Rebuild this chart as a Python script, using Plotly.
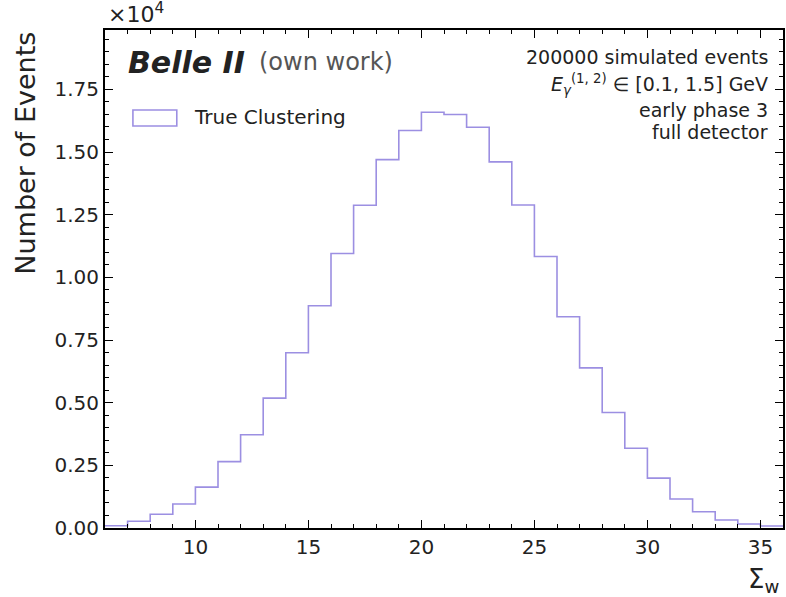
import plotly.graph_objects as go

# Histogram of cluster weight sum, bins of width 1 from 6 to 36
bin_edges = list(range(6, 37))
counts = [90, 270, 550, 960, 1630, 2650, 3720, 5180, 6990, 8870,
          10950, 12880, 14700, 15860, 16590, 16500, 15990, 14610, 12890, 10830,
          8430, 6390, 4610, 3180, 1990, 1160, 650, 320, 160, 80]

y_tick_vals = [0, 2500, 5000, 7500, 10000, 12500, 15000, 17500]
y_tick_text = ["0.00", "0.25", "0.50", "0.75", "1.00", "1.25", "1.50", "1.75"]

line_color = "#9c8fe2"
font_family = "DejaVu Sans"

fig = go.Figure()

# Step outline: each count held across its bin
fig.add_trace(go.Scatter(
    x=bin_edges,
    y=counts + [counts[-1]],
    mode="lines",
    line=dict(shape="hv", color=line_color, width=1.6),
    showlegend=False,
    hoverinfo="skip",
))

axis_common = dict(
    showline=True, linecolor="black", linewidth=2, mirror="ticks",
    ticks="inside", tickcolor="black", tickwidth=1.2, ticklen=8,
    showgrid=False, zeroline=False,
    tickfont=dict(family=font_family, size=20, color="#222"),
)

fig.update_layout(
    width=786, height=597,
    margin=dict(l=105, r=1, t=30, b=69),
    paper_bgcolor="white", plot_bgcolor="white",
    font=dict(family=font_family, color="#222"),
    xaxis=dict(
        range=[6, 36], dtick=5, tick0=0,
        minor=dict(ticks="inside", dtick=1, ticklen=4, tickcolor="black", tickwidth=1),
        **axis_common,
    ),
    yaxis=dict(
        range=[0, 19870], tickvals=y_tick_vals, ticktext=y_tick_text,
        minor=dict(ticks="inside", dtick=500, tick0=0, ticklen=4, tickcolor="black", tickwidth=1),
        **axis_common,
    ),
    showlegend=False,
)

plot_left, plot_w = 105, 786 - 105 - 1
plot_top, plot_h = 30, 597 - 30 - 69


def px_x(xp):
    return (xp - plot_left) / plot_w


def px_y(yp):
    return 1 - (yp - plot_top) / plot_h


annotations = [
    # axis scale factor
    dict(text="×10<sup>4</sup>", x=px_x(106), y=1.0, xanchor="left", yanchor="bottom",
         yshift=1, font=dict(size=22, color="#222")),
    # axis titles
    dict(text="Number of Events", x=px_x(25), y=1.0, xanchor="center", yanchor="top",
         textangle=-90, font=dict(size=27, color="#222")),
    dict(text="Σ<sub>w</sub>", x=px_x(783), y=px_y(562), xanchor="right", yanchor="top",
         font=dict(size=26, color="#222")),
    # experiment label
    dict(text="<b><i>Belle II</i></b>", x=px_x(126), y=px_y(62), xanchor="left",
         yanchor="middle", font=dict(size=30, color="#222")),
    dict(text="(own work)", x=px_x(257), y=px_y(62), xanchor="left",
         yanchor="middle", font=dict(size=24, color="#555")),
    # legend label
    dict(text="True Clustering", x=px_x(192), y=px_y(117), xanchor="left",
         yanchor="middle", font=dict(size=20, color="#222")),
]

info_lines = [
    ("200000 simulated events", 57),
    ("<i>E</i><sub><i>γ</i></sub><sup>(1, 2)</sup> ∈ [0.1, 1.5] GeV", 84),
    ("early phase 3", 110),
    ("full detector", 132),
]
for txt, ypix in info_lines:
    annotations.append(dict(
        text=txt, x=px_x(772), y=px_y(ypix), xanchor="right", yanchor="middle",
        font=dict(size=19, color="#222"),
    ))

for a in annotations:
    a.update(xref="paper", yref="paper", showarrow=False)

fig.update_layout(annotations=annotations)

# legend swatch: open box in the series colour
fig.add_shape(type="rect", xref="paper", yref="paper",
              x0=px_x(133), x1=px_x(177), y0=px_y(126), y1=px_y(110),
              line=dict(color=line_color, width=1.6), fillcolor="rgba(0,0,0,0)")

fig.write_html("out.html")
